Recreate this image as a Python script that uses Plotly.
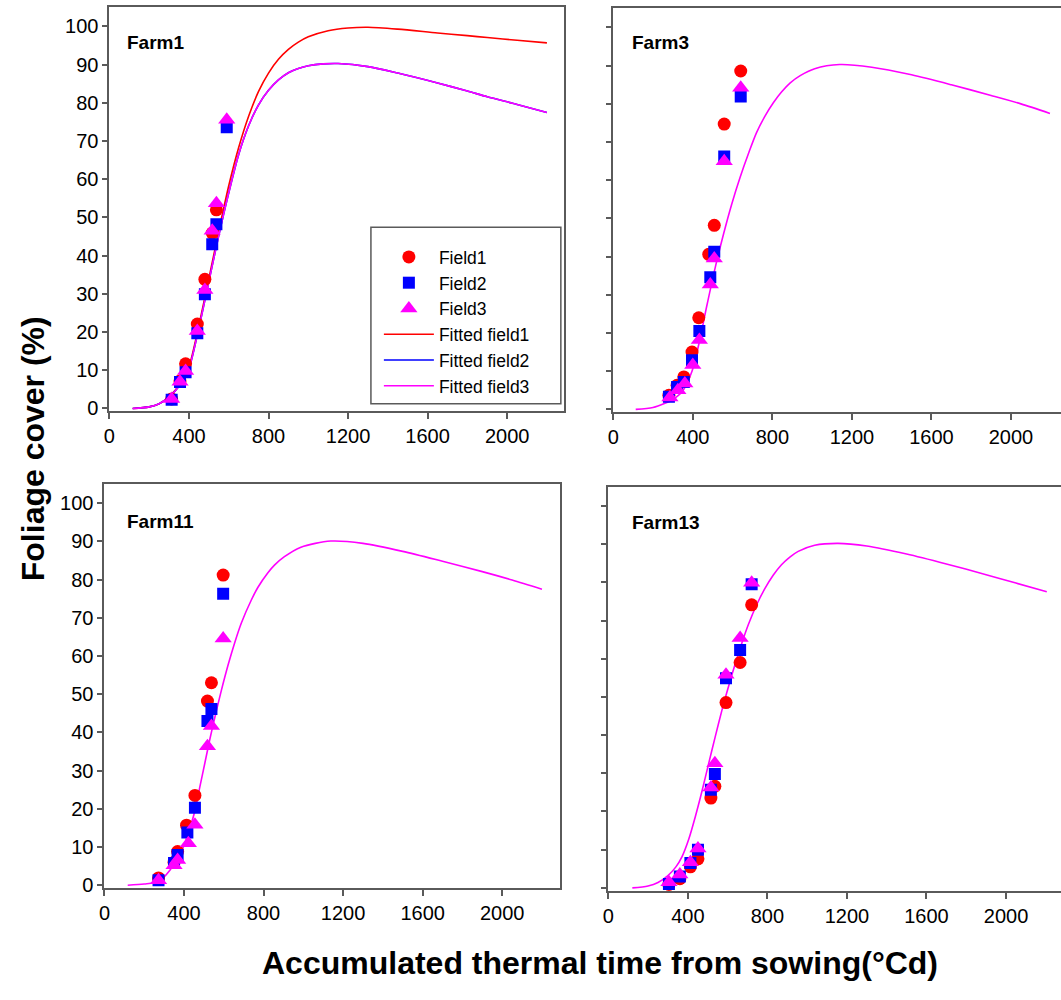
import plotly.graph_objects as go

# ---------------- data ----------------
tick_x = [0, 400, 800, 1200, 1600, 2000]
tick_y = [0, 10, 20, 30, 40, 50, 60, 70, 80, 90, 100]

# Farm1
f1_x1 = [313, 355, 383, 442, 480, 517, 538]
f1_y1 = [2.5, 7.2, 11.7, 22.1, 33.8, 45.9, 52.0]
f1_x2 = [313, 355, 383, 442, 480, 517, 538, 590]
f1_y2 = [2.3, 6.9, 9.5, 19.7, 29.9, 43.0, 48.2, 73.6]
f1_x3 = [313, 355, 383, 442, 480, 517, 538, 590]
f1_y3 = [2.5, 7.0, 9.8, 20.3, 31.0, 46.5, 53.7, 75.6]

# Farm3
f3_x1 = [280, 321, 355, 396, 430, 480, 508, 558, 641]
f3_y1 = [3.7, 6.3, 8.5, 15.0, 24.0, 40.6, 48.2, 74.7, 88.6]
f3_x2 = [280, 321, 355, 396, 433, 488, 508, 558, 641]
f3_y2 = [3.3, 5.9, 7.2, 12.9, 20.5, 34.6, 41.3, 66.2, 81.9]
f3_x3 = [285, 325, 360, 400, 433, 488, 508, 558, 641]
f3_y3 = [3.1, 5.0, 6.8, 11.6, 18.2, 32.7, 39.5, 65.0, 84.2]

# Farm11
f11_x1 = [272, 350, 368, 413, 455, 518, 538, 597]
f11_y1 = [1.9, 6.0, 8.8, 15.7, 23.5, 48.2, 53.0, 81.2]
f11_x2 = [272, 350, 368, 417, 455, 518, 538, 597]
f11_y2 = [1.3, 5.8, 7.9, 13.8, 20.3, 43.0, 46.1, 76.3]
f11_x3 = [272, 350, 368, 422, 455, 518, 538, 597]
f11_y3 = [1.3, 5.2, 6.6, 11.0, 15.8, 36.4, 41.7, 64.6]

# Farm13
f13_x = [305, 360, 413, 451, 516, 536, 592, 663, 721]
f13_y1 = [0.9, 2.4, 5.5, 7.6, 23.5, 26.6, 48.5, 59.0, 74.1]
f13_y2 = [1.0, 3.0, 6.5, 10.0, 25.7, 29.8, 54.9, 62.3, 79.5]
f13_y3 = [1.5, 3.5, 6.7, 10.3, 26.3, 32.6, 55.8, 65.4, 79.9]

# Fitted curves
fit1_red_x = [117, 200, 250, 300, 350, 400, 450, 500, 550, 600, 650, 700, 750, 800, 850,
              900, 950, 1000, 1100, 1200, 1300, 1450, 1650, 1800, 1900, 2050, 2200]
fit1_red_y = [0, 0.4, 1.2, 3.1, 6.0, 11.0, 21.8, 34.0, 46.5, 58.3, 68.3, 76.5, 83.0, 87.8, 91.4,
              94.0, 95.9, 97.3, 98.9, 99.6, 99.8, 99.3, 98.3, 97.6, 97.1, 96.4, 95.7]
fit1_mag_x = [117, 200, 250, 300, 350, 397, 447, 497, 547, 597, 650, 700, 750, 800, 850,
              900, 950, 1000, 1075, 1150, 1300, 1450, 1650, 1800, 1900, 2050, 2200]
fit1_mag_y = [0, 0.4, 1.2, 3.0, 5.8, 10.0, 20.4, 32.5, 44.6, 55.8, 66.5, 74.0, 79.5, 83.3, 86.0,
              87.9, 89.0, 89.7, 90.2, 90.3, 89.5, 87.8, 85.2, 83.1, 81.6, 79.6, 77.5]

fit3_x = [113, 200, 260, 300, 346, 396, 430, 470, 513, 555, 596, 638, 680, 720, 763, 805, 846,
          890, 940, 1013, 1138, 1300, 1500, 1700, 1900, 2050, 2196]
fit3_y = [0, 0.5, 1.6, 2.6, 4.6, 10.0, 17.0, 27.0, 37.2, 46.0, 53.8, 60.8, 67.0, 72.4, 76.8, 80.3, 83.1,
          85.5, 87.4, 89.2, 90.3, 89.6, 87.6, 85.0, 82.2, 80.0, 77.5]

fit11_x = [117, 200, 272, 330, 397, 430, 455, 480, 505, 530, 555, 588, 622, 655, 688, 738, 772,
           822, 855, 905, 988, 1138, 1300, 1500, 1700, 1900, 2050, 2200]
fit11_y = [0, 0.3, 1.0, 4.0, 10.0, 15.0, 19.5, 25.8, 32.0, 38.2, 43.9, 51.0, 57.7, 63.5, 68.6, 74.6, 78.0,
           81.8, 83.8, 86.0, 88.5, 90.1, 89.5, 87.4, 84.8, 82.1, 79.9, 77.5]

fit13_x = [121, 200, 250, 300, 340, 371, 405, 438, 472, 505, 538, 571, 605, 638, 671, 705, 745,
           788, 830, 871, 913, 955, 1038, 1155, 1300, 1500, 1700, 1900, 2050, 2205]
fit13_y = [0, 0.5, 1.4, 3.2, 5.5, 8.2, 12.8, 18.7, 25.5, 32.6, 39.6, 46.4, 52.8, 58.6, 64.0, 69.0, 74.0,
           78.4, 81.9, 84.6, 86.6, 88.1, 89.7, 90.2, 89.5, 87.4, 84.8, 82.0, 79.8, 77.5]

farm_names = ["Farm1", "Farm3", "Farm11", "Farm13"]

# ---------------- style ----------------
W, H = 1061, 1000
RED, BLUE, MAG = "#FF0000", "#0000FF", "#FF00FF"
AXC = "#5a5a5a"
FONT = "Liberation Sans"

def px(x):
    return x / W

def py(y):
    return 1 - y / H

fig = go.Figure()

def add_curve(x, y, color, name, ax, show):
    fig.add_trace(go.Scatter(x=x, y=y, mode="lines", line=dict(color=color, width=1.6, shape="spline", smoothing=0.8),
                             name=name, xaxis="x" + ax, yaxis="y" + ax, showlegend=show,
                             legendrank={"Fitted field1": 4, "Fitted field2": 5, "Fitted field3": 6}[name]))

def add_pts(x, y, color, symbol, size, name, ax, show):
    fig.add_trace(go.Scatter(x=x, y=y, mode="markers",
                             marker=dict(color=color, symbol=symbol, size=size, line=dict(width=0)),
                             name=name, xaxis="x" + ax, yaxis="y" + ax, showlegend=show,
                             legendrank={"Field1": 1, "Field2": 2, "Field3": 3}[name]))

# panel 1
add_curve(fit1_red_x, fit1_red_y, RED, "Fitted field1", "", True)
add_curve(fit1_mag_x, fit1_mag_y, BLUE, "Fitted field2", "", True)
add_curve(fit1_mag_x, fit1_mag_y, MAG, "Fitted field3", "", True)
add_pts(f1_x1, f1_y1, RED, "circle", 13, "Field1", "", True)
add_pts(f1_x2, f1_y2, BLUE, "square", 12, "Field2", "", True)
add_pts(f1_x3, f1_y3, MAG, "triangle-up", 15, "Field3", "", True)

# panel 2
add_curve(fit3_x, fit3_y, MAG, "Fitted field3", "2", False)
add_pts(f3_x1, f3_y1, RED, "circle", 13, "Field1", "2", False)
add_pts(f3_x2, f3_y2, BLUE, "square", 12, "Field2", "2", False)
add_pts(f3_x3, f3_y3, MAG, "triangle-up", 15, "Field3", "2", False)

# panel 3
add_curve(fit11_x, fit11_y, MAG, "Fitted field3", "3", False)
add_pts(f11_x1, f11_y1, RED, "circle", 13, "Field1", "3", False)
add_pts(f11_x2, f11_y2, BLUE, "square", 12, "Field2", "3", False)
add_pts(f11_x3, f11_y3, MAG, "triangle-up", 15, "Field3", "3", False)

# panel 4
add_curve(fit13_x, fit13_y, MAG, "Fitted field3", "4", False)
add_pts(f13_x, f13_y1, RED, "circle", 13, "Field1", "4", False)
add_pts(f13_x, f13_y2, BLUE, "square", 12, "Field2", "4", False)
add_pts(f13_x, f13_y3, MAG, "triangle-up", 15, "Field3", "4", False)

tickfont = dict(family=FONT, size=20, color="black")

def xax(dom, rng, anchor, mirror):
    return dict(domain=dom, range=rng, anchor=anchor, tickvals=tick_x, ticks="outside", ticklen=6,
                tickwidth=1.5, tickcolor=AXC, showline=True, linecolor=AXC, linewidth=2,
                mirror=mirror, showgrid=False, zeroline=False, tickfont=tickfont, fixedrange=True)

def yax(dom, anchor, mirror, labels):
    return dict(domain=dom, range=[-0.8, 105], anchor=anchor, tickvals=tick_y, ticks="outside", ticklen=5,
                tickwidth=1.5, tickcolor=AXC, showline=True, linecolor=AXC, linewidth=2,
                mirror=mirror, showgrid=False, zeroline=False, tickfont=tickfont,
                showticklabels=labels, fixedrange=True)

fig.update_layout(
    width=W, height=H, margin=dict(l=0, r=0, t=0, b=0),
    paper_bgcolor="white", plot_bgcolor="white",
    xaxis=xax([px(104), px(561)], [0, 2285], "y", True),
    yaxis=yax([py(414.8), py(7.45)], "x", True, True),
    xaxis2=xax([px(610.7), 1.0], [0, 2251.5], "y2", True),
    yaxis2=yax([py(415.8), py(8.45)], "x2", False, False),
    xaxis3=xax([px(99), px(557)], [0, 2290], "y3", True),
    yaxis3=yax([py(895.4), py(488.05)], "x3", True, True),
    xaxis4=xax([px(605.7), 1.0], [0, 2276.5], "y4", True),
    yaxis4=yax([py(898.1), py(490.75)], "x4", False, False),
    showlegend=True,
    legend=dict(x=px(375), y=py(241), xanchor="left", yanchor="top", bgcolor="rgba(0,0,0,0)",
                borderwidth=0, font=dict(family=FONT, size=17.5, color="black"), itemwidth=50,
                tracegroupgap=0, traceorder="normal"),
)

# legend frame
fig.add_shape(type="rect", xref="paper", yref="paper", x0=px(367), x1=px(558), y0=py(407), y1=py(229),
              line=dict(color=AXC, width=1.5), fillcolor="rgba(0,0,0,0)")

farm_pos = [(120, 43), (628, 43), (120, 526), (628, 527)]
for name, (fx, fy) in zip(farm_names, farm_pos):
    fig.add_annotation(x=px(fx), y=py(fy), xref="paper", yref="paper", text="<b>" + name + "</b>",
                       showarrow=False, xanchor="left", yanchor="middle",
                       font=dict(family=FONT, size=19, color="black"))

fig.add_annotation(x=px(28), y=py(452), xref="paper", yref="paper", text="<b>Foliage cover (%)</b>",
                   showarrow=False, textangle=-90, xanchor="center", yanchor="middle",
                   font=dict(family=FONT, size=32, color="black"))
fig.add_annotation(x=px(597), y=py(971), xref="paper", yref="paper",
                   text="<b>Accumulated thermal time from sowing(°Cd)</b>",
                   showarrow=False, xanchor="center", yanchor="middle",
                   font=dict(family=FONT, size=32, color="black"))

fig.write_html("out.html")
